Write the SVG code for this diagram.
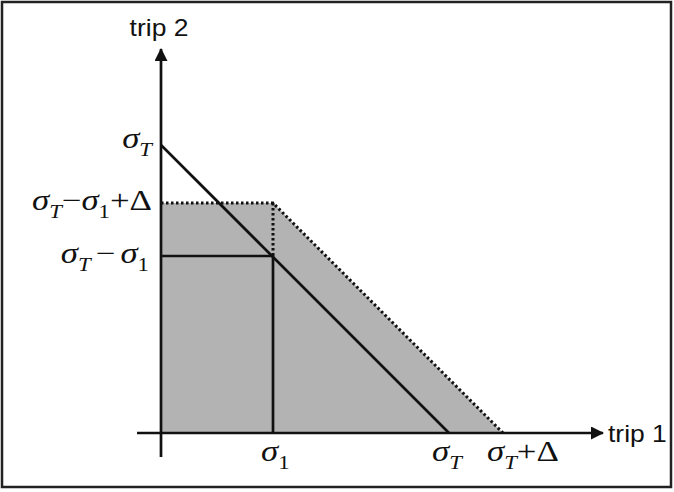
<svg xmlns="http://www.w3.org/2000/svg" width="674" height="492" viewBox="0 0 674 492">
<defs>
<marker id="arr" viewBox="0 0 13 13" refX="12" refY="6.5" markerWidth="13" markerHeight="13" markerUnits="userSpaceOnUse" orient="auto">
<path d="M0,0 L13,6.5 L0,13 Z" fill="#111"/>
</marker>
<style>
.ln{stroke:#111;stroke-width:2.7;fill:none}
.dot{stroke:#111;stroke-width:3;fill:none;stroke-dasharray:2.5 2.5}
.sans{font-family:"Liberation Sans",Arial,sans-serif;font-size:23px;fill:#111}
.ser{font-family:"Liberation Serif","Times New Roman",serif;font-size:29px;fill:#111}
.it{font-style:italic}
.sub{font-size:19px}
</style>
</defs>
<rect x="2" y="2" width="669" height="485" fill="#fff" stroke="#222" stroke-width="2.5"/>
<g id="region">
<polygon points="161,203 273,203 503,433 161,433" fill="#b3b3b3"/>
</g>
<g id="connectors">
<line class="ln" x1="161" y1="457" x2="161" y2="49" marker-end="url(#arr)"/>
<line class="ln" x1="137" y1="433" x2="603" y2="433" marker-end="url(#arr)"/>
<line class="ln" x1="161" y1="145" x2="449" y2="433"/>
<polyline class="ln" points="161,256 273,256 273,433"/>
<polyline class="dot" points="161,203 273,203 503,433"/>
<line class="dot" x1="273" y1="203" x2="273" y2="256"/>
</g>
<g id="labels">
<text class="sans" text-anchor="middle" transform="translate(159,36) scale(1.15,1)">trip 2</text>
<text class="sans" text-anchor="start" transform="translate(608,442) scale(1.15,1)">trip 1</text>
<text class="ser" text-anchor="end" transform="translate(152,148) scale(1.2,1)"><tspan class="it">σ</tspan><tspan class="it sub" dy="8">T</tspan></text>
<text class="ser" text-anchor="end" transform="translate(152,210) scale(1.2,1)"><tspan class="it">σ</tspan><tspan class="it sub" dy="8">T</tspan><tspan dy="-8">−</tspan><tspan class="it">σ</tspan><tspan class="sub" dy="8">1</tspan><tspan dy="-8">+Δ</tspan></text>
<text class="ser" text-anchor="end" word-spacing="-3" transform="translate(149,263) scale(1.2,1)"><tspan class="it">σ</tspan><tspan class="it sub" dy="8">T</tspan><tspan dy="-8"> − </tspan><tspan class="it">σ</tspan><tspan class="sub" dy="8">1</tspan></text>
<text class="ser" transform="translate(261,461) scale(1.2,1)"><tspan class="it">σ</tspan><tspan class="sub" dy="8">1</tspan></text>
<text class="ser" transform="translate(432,461) scale(1.2,1)"><tspan class="it">σ</tspan><tspan class="it sub" dy="8">T</tspan></text>
<text class="ser" transform="translate(487,461) scale(1.2,1)"><tspan class="it">σ</tspan><tspan class="it sub" dy="8">T</tspan><tspan dy="-8">+Δ</tspan></text>
</g>
</svg>
